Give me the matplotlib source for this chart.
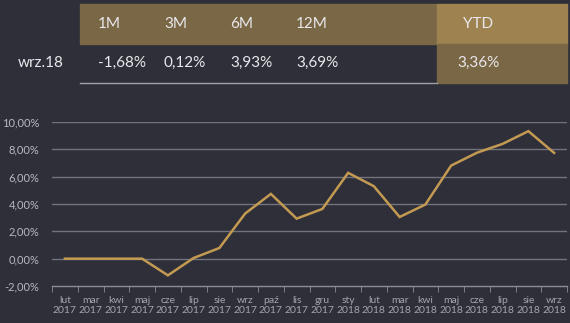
import matplotlib
matplotlib.use("Agg")
import matplotlib.pyplot as plt
from matplotlib.patches import Rectangle
from matplotlib.lines import Line2D

months = ["lut", "mar", "kwi", "maj", "cze", "lip", "sie", "wrz", "paź", "lis", "gru",
          "sty", "lut", "mar", "kwi", "maj", "cze", "lip", "sie", "wrz"]
years = ["2017"] * 11 + ["2018"] * 9
values = [0.0, 0.0, 0.0, 0.0, -1.22, 0.05, 0.78, 3.3, 4.74, 2.93, 3.64,
          6.28, 5.3, 3.05, 3.96, 6.81, 7.75, 8.4, 9.33, 7.74]

table_headers = ["1M", "3M", "6M", "12M"]
table_values = ["-1,68%", "0,12%", "3,93%", "3,69%"]
ytd_header = "YTD"
ytd_value = "3,36%"
row_label = "wrz.18"

yticks = [-2, 0, 2, 4, 6, 8, 10]

BG = "#2f2f39"
TXT = "#e8e8ec"
W, H = 570, 323

plt.rcParams['font.family'] = ['Lato', 'DejaVu Sans']
fig = plt.figure(figsize=(W / 100, H / 100), dpi=100, facecolor=BG)

def fx(px):
    return px / W

def fy(py):
    return 1 - py / H

# table backgrounds
fig.patches.append(Rectangle((fx(80), fy(44)), fx(437) - fx(80), fy(4) - fy(44),
                             transform=fig.transFigure, color="#7a6745", zorder=0))
fig.patches.append(Rectangle((fx(437), fy(44)), fx(567) - fx(437), fy(4) - fy(44),
                             transform=fig.transFigure, color="#9e8350", zorder=0))
fig.patches.append(Rectangle((fx(437), fy(83)), fx(567) - fx(437), fy(44) - fy(83),
                             transform=fig.transFigure, color="#7a6745", zorder=0))
fig.lines.append(Line2D([fx(80), fx(437)], [fy(83), fy(83)], transform=fig.transFigure,
                        color="#a0a0a6", lw=1.0))

col_x = [98, 164, 230, 296]
for x, h, v in zip(col_x, table_headers, table_values):
    fig.text(fx(x), fy(24), h, color=TXT, fontsize=11, ha="left", va="center")
    fig.text(fx(x), fy(63), v, color=TXT, fontsize=11, ha="left", va="center")
fig.text(fx(478), fy(24), ytd_header, color=TXT, fontsize=11, ha="center", va="center")
fig.text(fx(478), fy(63), ytd_value, color=TXT, fontsize=11, ha="center", va="center")
fig.text(fx(18), fy(63), row_label, color=TXT, fontsize=11, ha="left", va="center")

# chart
ax = fig.add_axes([fx(52), fy(286), fx(567) - fx(52), fy(122) - fy(286)])
ax.set_facecolor(BG)
x = list(range(len(values)))
ax.plot(x, values, color="#c39a52", lw=1.8, zorder=3, solid_joinstyle="miter")
ax.set_xlim(-0.5, len(values) - 0.5)
ax.set_ylim(-2, 10)
ax.set_yticks(yticks)
ax.set_yticklabels([f"{v:.2f}%".replace(".", ",") for v in yticks], color="#b8b8be", fontsize=8)
for v in yticks[1:]:
    ax.axhline(v, color="#72727c", lw=1.0, zorder=1)
for s in ["top", "right", "left"]:
    ax.spines[s].set_visible(False)
ax.spines["bottom"].set_color("#8c8c94")
ax.spines["bottom"].set_linewidth(1.0)
ax.tick_params(axis="y", length=0, pad=9)
ax.set_xticks(x)
ax.set_xticklabels([f"{m}\n{y}" for m, y in zip(months, years)], color="#a4a4ac", fontsize=7.5,
                   linespacing=1.15)
ax.tick_params(axis="x", which="major", length=0, pad=7)
ax.set_xticks([i - 0.5 for i in range(len(values) + 1)], minor=True)
ax.tick_params(axis="x", which="minor", length=4, color="#8c8c94", direction="out")

fig.savefig("out.png", dpi=100, facecolor=BG)
